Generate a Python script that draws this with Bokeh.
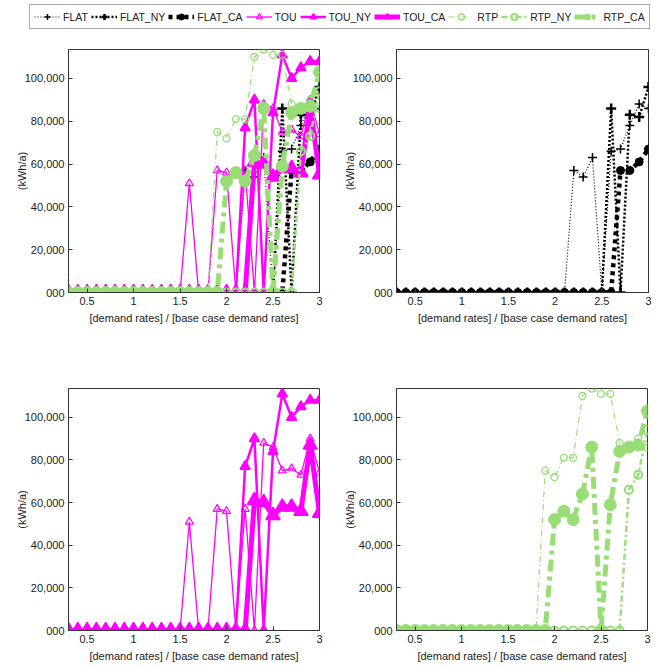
from bokeh.plotting import figure
from bokeh.models import Range1d, FixedTicker, Legend, LegendItem, Spacer
from bokeh.layouts import column, row
from bokeh.embed import file_html
from bokeh.resources import INLINE

# ---------------- data ----------------
x = [0.3, 0.4, 0.5, 0.6, 0.7, 0.8, 0.9, 1.0, 1.1, 1.2, 1.3, 1.4, 1.5, 1.6,
     1.7, 1.8, 1.9, 2.0, 2.1, 2.2, 2.3, 2.4, 2.5, 2.6, 2.7, 2.8, 2.9, 3.0]

flat    = [0, 0, 0, 0, 0, 0, 0, 0, 0, 0, 0, 0, 0, 0, 0, 0, 0, 0, 0,
           57000, 54000, 63000, 0, 66000, 67000, 78000, 88000, 86000]
flat_ny = [0, 0, 0, 0, 0, 0, 0, 0, 0, 0, 0, 0, 0, 0, 0, 0, 0, 0, 0,
           0, 0, 0, 0, 86000, 0, 83000, 82000, 96000]
flat_ca = [0, 0, 0, 0, 0, 0, 0, 0, 0, 0, 0, 0, 0, 0, 0, 0, 0, 0, 0,
           0, 0, 0, 0, 0, 57000, 57000, 61000, 67000]

tou     = [0, 0, 0, 0, 0, 0, 0, 0, 0, 0, 0, 0, 0, 51000, 0, 0, 57000, 56000, 0,
           57000, 0, 88000, 86000, 75000, 76000, 73000, 90000, 74000]
tou_ny  = [0, 0, 0, 0, 0, 0, 0, 0, 0, 0, 0, 0, 0, 0, 0, 0, 0, 0, 0,
           77000, 90000, 0, 84000, 111000, 100000, 105000, 108000, 108000]
tou_ca  = [0, 0, 0, 0, 0, 0, 0, 0, 0, 0, 0, 0, 0, 0, 0, 0, 0, 0, 0,
           0, 61000, 60000, 54000, 58000, 58000, 56000, 87000, 55000]

rtp     = [0, 0, 0, 0, 0, 0, 0, 0, 0, 0, 0, 0, 0, 0, 0, 0, 75000, 72000, 81000,
           81000, 110000, 113500, 111000, 111000, 88000, 86000, 90000, 86000]
rtp_ny  = [0, 0, 0, 0, 0, 0, 0, 0, 0, 0, 0, 0, 0, 0, 0, 0, 0, 0, 0,
           0, 0, 0, 0, 0, 0, 66000, 73000, 94000]
rtp_ca  = [0, 0, 0, 0, 0, 0, 0, 0, 0, 0, 0, 0, 0, 0, 0, 0, 0, 52000, 56000,
           52000, 64000, 86000, 0, 59000, 84000, 86000, 87000, 103000]

series_names = ["FLAT", "FLAT_NY", "FLAT_CA", "TOU", "TOU_NY", "TOU_CA",
                "RTP", "RTP_NY", "RTP_CA"]
series_values = [flat, flat_ny, flat_ca, tou, tou_ny, tou_ca, rtp, rtp_ny, rtp_ca]

x_ticks = [0.5, 1, 1.5, 2, 2.5, 3]
x_tick_labels = ["0.5", "1", "1.5", "2", "2.5", "3"]
y_ticks = [0, 20000, 40000, 60000, 80000, 100000]
y_tick_labels = ["000", "20,000", "40,000", "60,000", "80,000", "100,000"]

x_label = "[demand rates] / [base case demand rates]"
y_label = "(kWh/a)"

# ---------------- styles ----------------
FONT = "Liberation Sans"
TEXT = "#222222"
AX = "#333333"
MAG = "#ff00ff"
GRN = "#99dd77"

styles = {
    "FLAT":    dict(c="black", lw=1.2, dash="1 2", m="cross", s=9, mlw=1.5, fill=False),
    "FLAT_NY": dict(c="black", lw=2.5, dash="2 2", m="cross", s=10, mlw=2.5, fill=False),
    "FLAT_CA": dict(c="black", lw=4.5, dash="4 4", m="circle", s=8, mlw=1, fill=True),
    "TOU":     dict(c=MAG, lw=1.3, dash="solid", m="triangle", s=8, mlw=1.2, fill=False),
    "TOU_NY":  dict(c=MAG, lw=2.5, dash="solid", m="triangle", s=10, mlw=1.5, fill=True),
    "TOU_CA":  dict(c=MAG, lw=5, dash="solid", m="triangle", s=14, mlw=1.5, fill=True),
    "RTP":     dict(c=GRN, lw=1.2, dash="6 3 1 3", m="circle", s=7, mlw=1.3, fill=False),
    "RTP_NY":  dict(c=GRN, lw=2.5, dash="6 3 2 3", m="circle", s=8, mlw=2, fill=False),
    "RTP_CA":  dict(c=GRN, lw=5, dash="12 5 4 5", m="circle", s=12, mlw=1, fill=True),
}


def add_series(p, name, ys):
    st = styles[name]
    r1 = p.line(x, ys, line_color=st["c"], line_width=st["lw"], line_dash=st["dash"])
    r2 = p.scatter(x, ys, marker=st["m"], size=st["s"], line_color=st["c"],
                   line_width=st["mlw"],
                   fill_color=st["c"] if st["fill"] else None)
    return [r1, r2]


def make_fig(width, height, bl, br, bt, bb):
    p = figure(width=width, height=height,
               x_range=Range1d(0.3, 3.0), y_range=Range1d(0, 113500),
               toolbar_location=None, output_backend="svg",
               min_border_left=bl, min_border_right=br,
               min_border_top=bt, min_border_bottom=bb)
    p.grid.visible = False
    p.outline_line_color = AX
    p.outline_line_width = 1
    p.background_fill_color = "white"
    p.xaxis.ticker = FixedTicker(ticks=x_ticks)
    p.xaxis.major_label_overrides = dict(zip(x_ticks, x_tick_labels))
    p.yaxis.ticker = FixedTicker(ticks=y_ticks)
    p.yaxis.major_label_overrides = dict(zip(y_ticks, y_tick_labels))
    for ax in (p.xaxis[0], p.yaxis[0]):
        ax.major_tick_in = 4
        ax.major_tick_out = 0
        ax.minor_tick_line_color = None
        ax.axis_line_color = AX
        ax.major_tick_line_color = AX
        ax.major_label_text_font = FONT
        ax.major_label_text_font_size = "11px"
        ax.major_label_text_color = TEXT
        ax.axis_label_text_font = FONT
        ax.axis_label_text_font_size = "11px"
        ax.axis_label_text_font_style = "normal"
        ax.axis_label_text_color = TEXT
        ax.major_label_standoff = 4
        ax.axis_label_standoff = 4
    p.yaxis.axis_label_standoff = -6
    p.xaxis.axis_label = x_label
    p.yaxis.axis_label = y_label
    return p


# layout geometry (picture coordinates)
p_tl = make_fig(328, 310, 58, 19, 19, 48)
p_tr = make_fig(334, 310, 58, 24, 19, 48)
p_bl = make_fig(328, 328, 58, 19, 48, 38)
p_br = make_fig(334, 328, 58, 25, 48, 38)

for name, ys in zip(series_names, series_values):
    add_series(p_tl, name, ys)
for name, ys in zip(series_names[0:3], series_values[0:3]):
    add_series(p_tr, name, ys)
for name, ys in zip(series_names[3:6], series_values[3:6]):
    add_series(p_bl, name, ys)
for name, ys in zip(series_names[6:9], series_values[6:9]):
    add_series(p_br, name, ys)

# legend strip
p_leg = figure(width=672, height=30, x_range=Range1d(10, 11), y_range=Range1d(0, 1),
               toolbar_location=None, output_backend="svg",
               x_axis_type=None, y_axis_type=None,
               min_border_left=25, min_border_right=0, min_border_top=0, min_border_bottom=0)
p_leg.grid.visible = False
p_leg.outline_line_color = None
items = []
for name, ys in zip(series_names, series_values):
    rs = add_series(p_leg, name, ys)
    items.append(LegendItem(label=name, renderers=rs))
legend = Legend(items=items, orientation="horizontal", location="top_left",
                glyph_width=26, glyph_height=15, label_standoff=3, spacing=3,
                padding=4, margin=4, border_line_color="#555555",
                label_text_font=FONT, label_text_font_size="10.5px",
                label_text_color=TEXT, label_height=15)
p_leg.add_layout(legend)

layout = column(p_leg,
                row(Spacer(width=10, height=310), p_tl, p_tr),
                row(Spacer(width=10, height=328), p_bl, p_br))

open("out.html", "w").write(file_html(layout, INLINE))
